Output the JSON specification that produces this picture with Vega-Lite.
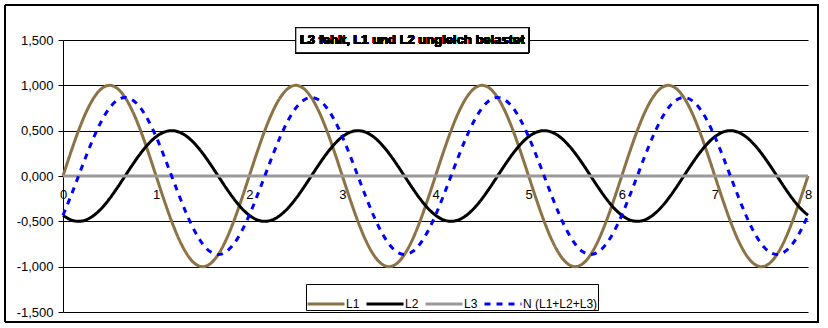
{
  "$schema": "https://vega.github.io/schema/vega-lite/v6.json",
  "width": 745,
  "height": 272,
  "autosize": "none",
  "padding": {"left": 63, "top": 40, "right": 20, "bottom": 16},
  "background": "white",
  "config": {
    "view": {"stroke": null},
    "font": "Liberation Sans, Arial, sans-serif",
    "axis": {"labelFont": "Liberation Sans, Arial, sans-serif", "labelColor": "black"},
    "legend": {"labelFont": "Liberation Sans, Arial, sans-serif", "labelColor": "black"}
  },
  "data": {"values": [
    {"x":0,"L1":0,"L2":-0.433,"L3":0,"N":-0.433},
    {"x":0.0833,"L1":0.2588,"L2":-0.483,"L3":0,"N":-0.2241},
    {"x":0.1667,"L1":0.5,"L2":-0.5,"L3":0,"N":0},
    {"x":0.25,"L1":0.7071,"L2":-0.483,"L3":0,"N":0.2241},
    {"x":0.3333,"L1":0.866,"L2":-0.433,"L3":0,"N":0.433},
    {"x":0.4167,"L1":0.9659,"L2":-0.3536,"L3":0,"N":0.6124},
    {"x":0.5,"L1":1,"L2":-0.25,"L3":0,"N":0.75},
    {"x":0.5833,"L1":0.9659,"L2":-0.1294,"L3":0,"N":0.8365},
    {"x":0.6667,"L1":0.866,"L2":0,"L3":0,"N":0.866},
    {"x":0.75,"L1":0.7071,"L2":0.1294,"L3":0,"N":0.8365},
    {"x":0.8333,"L1":0.5,"L2":0.25,"L3":0,"N":0.75},
    {"x":0.9167,"L1":0.2588,"L2":0.3536,"L3":0,"N":0.6124},
    {"x":1,"L1":0,"L2":0.433,"L3":0,"N":0.433},
    {"x":1.0833,"L1":-0.2588,"L2":0.483,"L3":0,"N":0.2241},
    {"x":1.1667,"L1":-0.5,"L2":0.5,"L3":0,"N":0},
    {"x":1.25,"L1":-0.7071,"L2":0.483,"L3":0,"N":-0.2241},
    {"x":1.3333,"L1":-0.866,"L2":0.433,"L3":0,"N":-0.433},
    {"x":1.4167,"L1":-0.9659,"L2":0.3536,"L3":0,"N":-0.6124},
    {"x":1.5,"L1":-1,"L2":0.25,"L3":0,"N":-0.75},
    {"x":1.5833,"L1":-0.9659,"L2":0.1294,"L3":0,"N":-0.8365},
    {"x":1.6667,"L1":-0.866,"L2":0,"L3":0,"N":-0.866},
    {"x":1.75,"L1":-0.7071,"L2":-0.1294,"L3":0,"N":-0.8365},
    {"x":1.8333,"L1":-0.5,"L2":-0.25,"L3":0,"N":-0.75},
    {"x":1.9167,"L1":-0.2588,"L2":-0.3536,"L3":0,"N":-0.6124},
    {"x":2,"L1":0,"L2":-0.433,"L3":0,"N":-0.433},
    {"x":2.0833,"L1":0.2588,"L2":-0.483,"L3":0,"N":-0.2241},
    {"x":2.1667,"L1":0.5,"L2":-0.5,"L3":0,"N":0},
    {"x":2.25,"L1":0.7071,"L2":-0.483,"L3":0,"N":0.2241},
    {"x":2.3333,"L1":0.866,"L2":-0.433,"L3":0,"N":0.433},
    {"x":2.4167,"L1":0.9659,"L2":-0.3536,"L3":0,"N":0.6124},
    {"x":2.5,"L1":1,"L2":-0.25,"L3":0,"N":0.75},
    {"x":2.5833,"L1":0.9659,"L2":-0.1294,"L3":0,"N":0.8365},
    {"x":2.6667,"L1":0.866,"L2":0,"L3":0,"N":0.866},
    {"x":2.75,"L1":0.7071,"L2":0.1294,"L3":0,"N":0.8365},
    {"x":2.8333,"L1":0.5,"L2":0.25,"L3":0,"N":0.75},
    {"x":2.9167,"L1":0.2588,"L2":0.3536,"L3":0,"N":0.6124},
    {"x":3,"L1":0,"L2":0.433,"L3":0,"N":0.433},
    {"x":3.0833,"L1":-0.2588,"L2":0.483,"L3":0,"N":0.2241},
    {"x":3.1667,"L1":-0.5,"L2":0.5,"L3":0,"N":0},
    {"x":3.25,"L1":-0.7071,"L2":0.483,"L3":0,"N":-0.2241},
    {"x":3.3333,"L1":-0.866,"L2":0.433,"L3":0,"N":-0.433},
    {"x":3.4167,"L1":-0.9659,"L2":0.3536,"L3":0,"N":-0.6124},
    {"x":3.5,"L1":-1,"L2":0.25,"L3":0,"N":-0.75},
    {"x":3.5833,"L1":-0.9659,"L2":0.1294,"L3":0,"N":-0.8365},
    {"x":3.6667,"L1":-0.866,"L2":0,"L3":0,"N":-0.866},
    {"x":3.75,"L1":-0.7071,"L2":-0.1294,"L3":0,"N":-0.8365},
    {"x":3.8333,"L1":-0.5,"L2":-0.25,"L3":0,"N":-0.75},
    {"x":3.9167,"L1":-0.2588,"L2":-0.3536,"L3":0,"N":-0.6124},
    {"x":4,"L1":0,"L2":-0.433,"L3":0,"N":-0.433},
    {"x":4.0833,"L1":0.2588,"L2":-0.483,"L3":0,"N":-0.2241},
    {"x":4.1667,"L1":0.5,"L2":-0.5,"L3":0,"N":0},
    {"x":4.25,"L1":0.7071,"L2":-0.483,"L3":0,"N":0.2241},
    {"x":4.3333,"L1":0.866,"L2":-0.433,"L3":0,"N":0.433},
    {"x":4.4167,"L1":0.9659,"L2":-0.3536,"L3":0,"N":0.6124},
    {"x":4.5,"L1":1,"L2":-0.25,"L3":0,"N":0.75},
    {"x":4.5833,"L1":0.9659,"L2":-0.1294,"L3":0,"N":0.8365},
    {"x":4.6667,"L1":0.866,"L2":0,"L3":0,"N":0.866},
    {"x":4.75,"L1":0.7071,"L2":0.1294,"L3":0,"N":0.8365},
    {"x":4.8333,"L1":0.5,"L2":0.25,"L3":0,"N":0.75},
    {"x":4.9167,"L1":0.2588,"L2":0.3536,"L3":0,"N":0.6124},
    {"x":5,"L1":0,"L2":0.433,"L3":0,"N":0.433},
    {"x":5.0833,"L1":-0.2588,"L2":0.483,"L3":0,"N":0.2241},
    {"x":5.1667,"L1":-0.5,"L2":0.5,"L3":0,"N":0},
    {"x":5.25,"L1":-0.7071,"L2":0.483,"L3":0,"N":-0.2241},
    {"x":5.3333,"L1":-0.866,"L2":0.433,"L3":0,"N":-0.433},
    {"x":5.4167,"L1":-0.9659,"L2":0.3536,"L3":0,"N":-0.6124},
    {"x":5.5,"L1":-1,"L2":0.25,"L3":0,"N":-0.75},
    {"x":5.5833,"L1":-0.9659,"L2":0.1294,"L3":0,"N":-0.8365},
    {"x":5.6667,"L1":-0.866,"L2":0,"L3":0,"N":-0.866},
    {"x":5.75,"L1":-0.7071,"L2":-0.1294,"L3":0,"N":-0.8365},
    {"x":5.8333,"L1":-0.5,"L2":-0.25,"L3":0,"N":-0.75},
    {"x":5.9167,"L1":-0.2588,"L2":-0.3536,"L3":0,"N":-0.6124},
    {"x":6,"L1":0,"L2":-0.433,"L3":0,"N":-0.433},
    {"x":6.0833,"L1":0.2588,"L2":-0.483,"L3":0,"N":-0.2241},
    {"x":6.1667,"L1":0.5,"L2":-0.5,"L3":0,"N":0},
    {"x":6.25,"L1":0.7071,"L2":-0.483,"L3":0,"N":0.2241},
    {"x":6.3333,"L1":0.866,"L2":-0.433,"L3":0,"N":0.433},
    {"x":6.4167,"L1":0.9659,"L2":-0.3536,"L3":0,"N":0.6124},
    {"x":6.5,"L1":1,"L2":-0.25,"L3":0,"N":0.75},
    {"x":6.5833,"L1":0.9659,"L2":-0.1294,"L3":0,"N":0.8365},
    {"x":6.6667,"L1":0.866,"L2":0,"L3":0,"N":0.866},
    {"x":6.75,"L1":0.7071,"L2":0.1294,"L3":0,"N":0.8365},
    {"x":6.8333,"L1":0.5,"L2":0.25,"L3":0,"N":0.75},
    {"x":6.9167,"L1":0.2588,"L2":0.3536,"L3":0,"N":0.6124},
    {"x":7,"L1":0,"L2":0.433,"L3":0,"N":0.433},
    {"x":7.0833,"L1":-0.2588,"L2":0.483,"L3":0,"N":0.2241},
    {"x":7.1667,"L1":-0.5,"L2":0.5,"L3":0,"N":0},
    {"x":7.25,"L1":-0.7071,"L2":0.483,"L3":0,"N":-0.2241},
    {"x":7.3333,"L1":-0.866,"L2":0.433,"L3":0,"N":-0.433},
    {"x":7.4167,"L1":-0.9659,"L2":0.3536,"L3":0,"N":-0.6124},
    {"x":7.5,"L1":-1,"L2":0.25,"L3":0,"N":-0.75},
    {"x":7.5833,"L1":-0.9659,"L2":0.1294,"L3":0,"N":-0.8365},
    {"x":7.6667,"L1":-0.866,"L2":0,"L3":0,"N":-0.866},
    {"x":7.75,"L1":-0.7071,"L2":-0.1294,"L3":0,"N":-0.8365},
    {"x":7.8333,"L1":-0.5,"L2":-0.25,"L3":0,"N":-0.75},
    {"x":7.9167,"L1":-0.2588,"L2":-0.3536,"L3":0,"N":-0.6124},
    {"x":8,"L1":0,"L2":-0.433,"L3":0,"N":-0.433}
  ]},
  "layer": [
    {
      "mark": {"type": "rect", "fill": null, "stroke": "black", "strokeWidth": 1},
      "encoding": {
        "x": {"datum": -0.62, "type": "quantitative"},
        "x2": {"datum": 8.11},
        "y": {"datum": 1.886, "type": "quantitative"},
        "y2": {"datum": -1.61}
      }
    },
    {
      "transform": [{"fold": ["L1", "L2", "L3", "N"], "as": ["serie", "wert"]}],
      "mark": {"type": "line", "strokeWidth": 3, "interpolate": "monotone"},
      "encoding": {
        "x": {
          "field": "x", "type": "quantitative",
          "scale": {"domain": [0, 8], "nice": false},
          "axis": {
            "title": null, "values": [0,1,2,3,4,5,6,7,8], "format": "d",
            "offset": -136, "domain": false, "ticks": false, "grid": false,
            "labelFontSize": 13, "labelPadding": 12, "labelFlush": false
          }
        },
        "y": {
          "field": "wert", "type": "quantitative",
          "scale": {"domain": [-1.5, 1.5], "nice": false, "zero": false},
          "axis": {
            "title": null, "values": [-1.5,-1,-0.5,0,0.5,1,1.5],
            "labelExpr": "replace(replace(format(datum.value, '.3f'), '.', ','), '\u2212', '-')",
            "domain": true, "domainColor": "black", "domainWidth": 1,
            "ticks": true, "tickColor": "black", "tickSize": 5,
            "grid": true, "gridColor": "black", "gridOpacity": 1, "gridWidth": 1,
            "labelFontSize": 13, "labelPadding": 5
          }
        },
        "color": {
          "field": "serie", "type": "nominal",
          "scale": {"domain": ["L1", "L2", "L3", "N"], "range": ["#8C7346", "#000000", "#999999", "#0000FF"]},
          "legend": {
            "title": null, "orient": "none", "legendX": 243, "legendY": 244,
            "direction": "horizontal", "columns": 4,
            "fillColor": "white", "strokeColor": "black", "padding": 0,
            "symbolType": "stroke", "symbolSize": 1369, "symbolStrokeWidth": 3,
            "labelFontSize": 12, "labelOffset": 0, "columnPadding": 0,
            "labelExpr": "datum.label == 'N' ? 'N (L1+L2+L3)' : datum.label"
          }
        },
        "strokeDash": {
          "field": "serie", "type": "nominal",
          "scale": {"domain": ["L1", "L2", "L3", "N"], "range": [[1, 0], [1, 0], [1, 0], [6, 6]]},
          "legend": {
            "title": null, "orient": "none", "legendX": 243, "legendY": 244,
            "direction": "horizontal", "columns": 4,
            "fillColor": "white", "strokeColor": "black", "padding": 0,
            "symbolType": "stroke", "symbolSize": 1369, "symbolStrokeWidth": 3,
            "labelFontSize": 12, "labelOffset": 0, "columnPadding": 0,
            "labelExpr": "datum.label == 'N' ? 'N (L1+L2+L3)' : datum.label"
          }
        }
      }
    },
    {
      "mark": {"type": "rect", "fill": "white", "stroke": "black", "strokeWidth": 1},
      "encoding": {
        "x": {"datum": 2.5, "type": "quantitative"},
        "x2": {"datum": 5.0},
        "y": {"datum": 1.635, "type": "quantitative"},
        "y2": {"datum": 1.36}
      }
    },
    {
      "mark": {"type": "text", "text": "L3 fehlt, L1 und L2 ungleich belastet", "fontWeight": "bold", "fontSize": 13, "align": "center", "baseline": "middle", "font": "Liberation Sans, Arial, sans-serif", "fill": "black", "strokeWidth": 0},
      "encoding": {
        "x": {"datum": 3.75, "type": "quantitative"},
        "y": {"datum": 1.5, "type": "quantitative"}
      }
    }
  ]
}
